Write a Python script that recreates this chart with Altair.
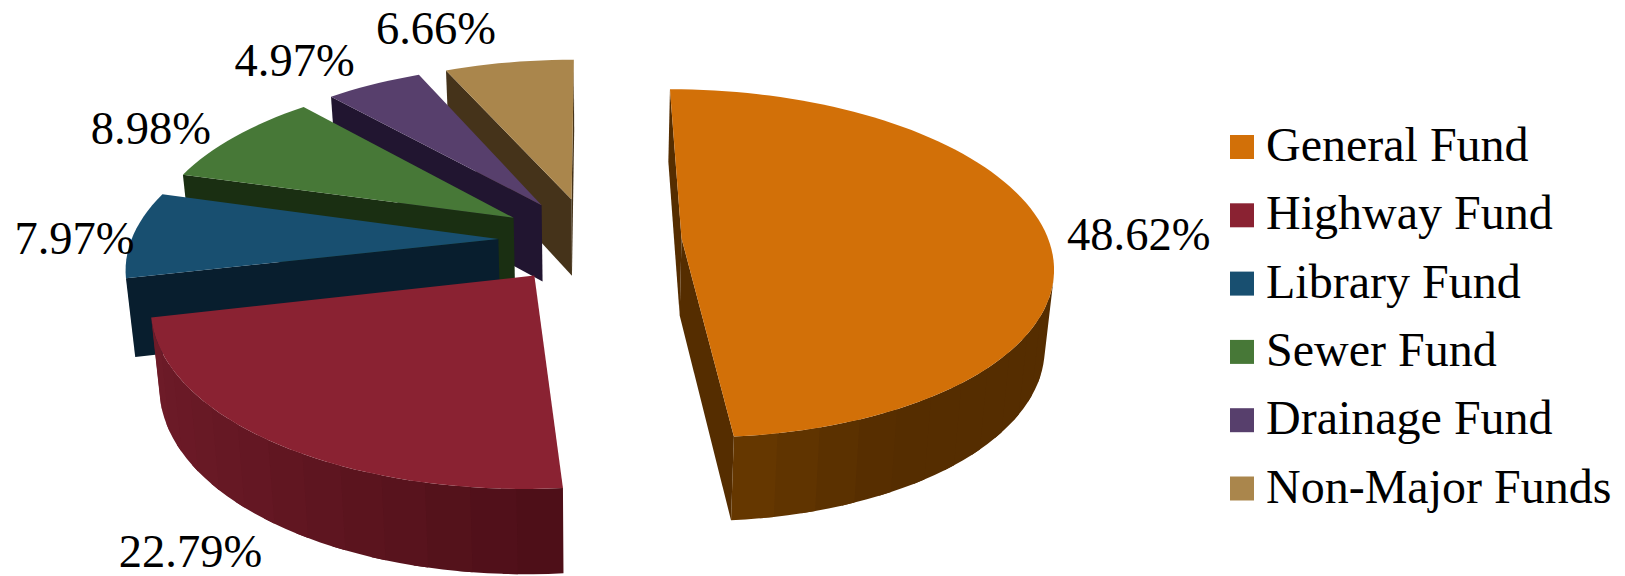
import math
import altair as alt

# Fund shares of the total, in percent
FUNDS = ["General Fund", "Highway Fund", "Library Fund", "Sewer Fund", "Drainage Fund", "Non-Major Funds"]
SHARES = [48.62, 22.79, 7.97, 8.98, 4.97, 6.66]
TOP_COLORS = ["#D27008", "#8A2232", "#184F70", "#477837", "#573F6C", "#AA864C"]
WALL_COLORS = ["#552D00", "#6A1A26", "#081E2E", "#1A2F12", "#211530", "#45331A"]

# Shading of the curved rim: (angle in degrees, colour), per fund
RIM_SHADES = {
    "General Fund": [(174, "#663800"), (152, "#552D00"), (0, "#552D00")],
    "Highway Fund": [(175, "#4C0E17"), (200, "#5A141E"), (225, "#661824"), (260, "#701C29")],
}

# Pie geometry: ground-plane perspective of an exploded disc
CX, CY = 590.0, 240.0
SCALE_X, SCALE_Y = 367.0, 171.0
PERSPECTIVE = 0.145
EXPLODE = 0.25
DEPTH = 77.5
BASE_SHRINK = 0.98
ARC_STEP = 2.0
BAND_STEPS = 3

# Label displacement from the middle of each slice's outer arc, in pixels
LABEL_NUDGE = [(94, 5), (-83, 111), (-59, 5), (-84, -7), (-79, -22), (-73, -32)]


def project(px, py, lowered=False):
    s = 1.0 / (1.0 + PERSPECTIVE * py)
    shrink = BASE_SHRINK if lowered else 1.0
    x = CX + SCALE_X * px * s * shrink
    y = CY - SCALE_Y * py * s + (DEPTH * math.sqrt(s) if lowered else 0.0)
    return [round(x, 2), round(y, 2)]


def hex_mix(a, b, t):
    ca = [int(a[i:i + 2], 16) for i in (1, 3, 5)]
    cb = [int(b[i:i + 2], 16) for i in (1, 3, 5)]
    return "#" + "".join(f"{round(u + (v - u) * t):02X}" for u, v in zip(ca, cb))


def rim_color(name, angle, fallback):
    stops = RIM_SHADES.get(name)
    if not stops:
        return fallback
    stops = sorted(stops)
    if angle <= stops[0][0]:
        return stops[0][1]
    for (a0, c0), (a1, c1) in zip(stops, stops[1:]):
        if angle <= a1:
            return hex_mix(c0, c1, (angle - a0) / (a1 - a0))
    return stops[-1][1]


def feature(ring, name, shade):
    closed = ring + [ring[0]]
    return {
        "type": "Feature",
        "geometry": {"type": "Polygon", "coordinates": [closed]},
        "properties": {"fund": name, "shade": shade},
    }


def faces_viewer(a, b):
    pa, pb = project(*a), project(*b)
    la = project(*a, lowered=True)
    dx, dy = pb[0] - pa[0], pb[1] - pa[1]
    hx, hy = la[0] - pa[0], la[1] - pa[1]
    return dx * hy - dy * hx < 0


def band(points, name, shade):
    upper = [project(*p) for p in points]
    lower = [project(*p, lowered=True) for p in points]
    return feature(upper + lower[::-1], name, shade)


def slice_features(name, start, sweep, wall_color):
    mid = math.radians(start + sweep / 2)
    ox, oy = EXPLODE * math.sin(mid), EXPLODE * math.cos(mid)
    n = max(2, int(round(sweep / ARC_STEP)))
    angles = [start + sweep * i / n for i in range(n + 1)]
    arc = [(ox + math.sin(math.radians(a)), oy + math.cos(math.radians(a))) for a in angles]
    apex = (ox, oy)

    walls = []
    if faces_viewer(apex, arc[0]):
        walls.append(band([apex, arc[0]], name, wall_color))
    if faces_viewer(arc[-1], apex):
        walls.append(band([arc[-1], apex], name, wall_color))

    # Rim bands: each one runs a step under its neighbour so that no seam shows
    visible = [i for i in range(n) if faces_viewer(arc[i], arc[i + 1])]
    for k in range(0, len(visible), BAND_STEPS):
        group = visible[k:k + BAND_STEPS]
        first, last = group[0], group[-1]
        centre = (angles[first] + angles[last + 1]) / 2
        stop = min(last + 1, visible[-1])
        walls.append(band(arc[first:stop + 2], name, rim_color(name, centre, wall_color)))

    top = [project(*apex)] + [project(*p) for p in arc]
    rim_mid = project(ox + math.sin(mid), oy + math.cos(mid))
    return walls, feature(top, name, None), rim_mid


projection = alt.Projection(type="identity", scale=1, translate=[0, 0])
color_scale = alt.Scale(domain=FUNDS, range=TOP_COLORS)
legend = alt.Legend(
    title=None,
    orient="none",
    legendX=1218,
    legendY=123,
    symbolType="square",
    symbolSize=576,
    symbolStrokeWidth=0,
    symbolOpacity=1,
    labelFont="Liberation Serif",
    labelFontSize=48,
    labelColor="black",
    labelOffset=0,
    labelLimit=400,
    rowPadding=20.3,
    padding=0,
)

total = sum(SHARES)
cursor = 0.0
layers = []
labels = []
pieces = []
for name, share, wall_color, nudge in zip(FUNDS, SHARES, WALL_COLORS, LABEL_NUDGE):
    sweep = 360.0 * share / total
    walls, top, rim_mid = slice_features(name, cursor, sweep, wall_color)
    pieces.append((walls, top))
    labels.append({"x": rim_mid[0] + nudge[0], "y": rim_mid[1] + nudge[1], "text": f"{share:.2f}%"})
    cursor += sweep

# Paint from the back of the pie to the front
for walls, top in reversed(pieces):
    layers.append(
        alt.Chart(alt.Data(values=walls))
        .mark_geoshape(strokeWidth=0)
        .encode(fill=alt.Fill("properties.shade:N", scale=None))
        .project(**projection.to_dict())
    )
    layers.append(
        alt.Chart(alt.Data(values=[top]))
        .mark_geoshape(strokeWidth=0.5)
        .encode(color=alt.Color("properties.fund:N", scale=color_scale, legend=legend))
        .project(**projection.to_dict())
    )

text_layer = (
    alt.Chart(alt.Data(values=labels))
    .mark_text(font="Liberation Serif", fontSize=46.5, color="black", align="center", baseline="middle")
    .encode(x=alt.X("x:Q", scale=None), y=alt.Y("y:Q", scale=None), text="text:N")
)

chart = (
    alt.layer(*layers, text_layer)
    .resolve_scale(fill="independent")
    .properties(width=1625, height=576, padding=0, autosize=alt.AutoSizeParams(type="none"), background="white")
    .configure_view(stroke=None)
)

chart.save("out.html", embed_options={"renderer": "svg", "actions": False})
